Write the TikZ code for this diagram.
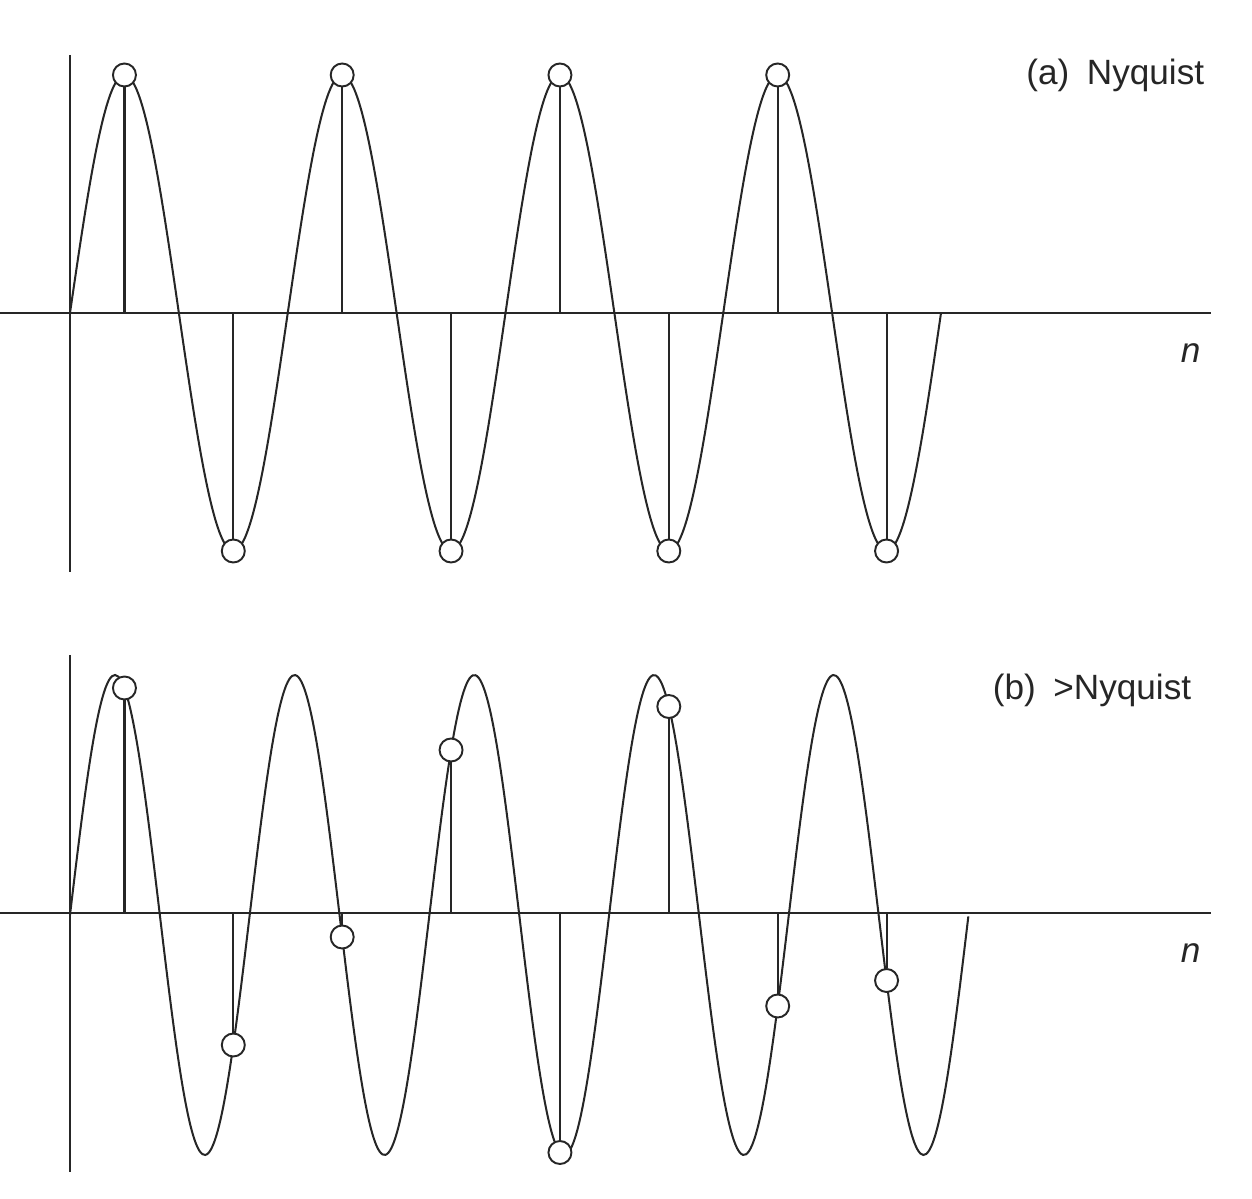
\documentclass[tikz,border=0pt]{standalone}
\usepackage{fontspec}
\setmainfont{Liberation Sans}
\usetikzlibrary{positioning}
\definecolor{ink}{HTML}{262626}

\begin{document}
\begin{tikzpicture}[line width=1pt,
    axis/.style={draw=ink, line width=1.2pt},
    wave/.style={draw=ink, line width=1.15pt, smooth},
    stem/.style={draw=ink, line width=1.2pt},
    smp/.style={circle, draw=ink, fill=white, line width=1.1pt, minimum size=.46cm, inner sep=0pt},
    lbl/.style={text=ink, font=\fontsize{20}{24}\selectfont, inner sep=0pt}]

\useasboundingbox (0,0) rectangle (25.04,23.96);

  % (a) Nyquist
\coordinate (ya0) at (1.4,22.86);
\coordinate (ya1) at (1.4,12.52);
\coordinate (xa0) at (0,17.70);
\coordinate (xa1) at (24.22,17.70);
\draw[axis] (ya0) -- (ya1);
\draw[axis] (xa0) -- (xa1);
\draw[wave] plot[domain=1.4:18.82, samples=240] (\x,{17.70+4.76*sin(360*(\x-1.4)/4.355)});

\coordinate (a1) at (2.489,17.70);
\coordinate (a2) at (4.666,17.70);
\coordinate (a3) at (6.844,17.70);
\coordinate (a4) at (9.021,17.70);
\coordinate (a5) at (11.199,17.70);
\coordinate (a6) at (13.376,17.70);
\coordinate (a7) at (15.554,17.70);
\coordinate (a8) at (17.731,17.70);
\node[smp] (sa1) at (2.489,22.46) {};
\node[smp] (sa2) at (4.666,12.94) {};
\node[smp] (sa3) at (6.844,22.46) {};
\node[smp] (sa4) at (9.021,12.94) {};
\node[smp] (sa5) at (11.199,22.46) {};
\node[smp] (sa6) at (13.376,12.94) {};
\node[smp] (sa7) at (15.554,22.46) {};
\node[smp] (sa8) at (17.731,12.94) {};
\draw[stem] (a1) -- (sa1);
\draw[stem] (a2) -- (sa2);
\draw[stem] (a3) -- (sa3);
\draw[stem] (a4) -- (sa4);
\draw[stem] (a5) -- (sa5);
\draw[stem] (a6) -- (sa6);
\draw[stem] (a7) -- (sa7);
\draw[stem] (a8) -- (sa8);

\node[lbl, anchor=base east] (la) at (24.10,22.26) {(a)\enspace Nyquist};
\node[lbl, anchor=base west] (na) at (23.60,16.70) {\itshape n};

  % (b) >Nyquist
\coordinate (yb0) at (1.4,10.86);
\coordinate (yb1) at (1.4,0.52);
\coordinate (xb0) at (0,5.70);
\coordinate (xb1) at (24.22,5.70);
\draw[axis] (yb0) -- (yb1);
\draw[axis] (xb0) -- (xb1);
\draw[wave] plot[domain=1.4:19.37, samples=300] (\x,{5.66+4.80*sin(360*(\x-1.4)/3.594)});

\coordinate (b1) at (2.489,5.70);
\coordinate (b2) at (4.666,5.70);
\coordinate (b3) at (6.844,5.70);
\coordinate (b4) at (9.021,5.70);
\coordinate (b5) at (11.199,5.70);
\coordinate (b6) at (13.376,5.70);
\coordinate (b7) at (15.554,5.70);
\coordinate (b8) at (17.731,5.70);
\node[smp] (sb1) at (2.489,10.20) {};
\node[smp] (sb2) at (4.666,3.06) {};
\node[smp] (sb3) at (6.844,5.22) {};
\node[smp] (sb4) at (9.021,8.96) {};
\node[smp] (sb5) at (11.199,0.91) {};
\node[smp] (sb6) at (13.376,9.83) {};
\node[smp] (sb7) at (15.554,3.84) {};
\node[smp] (sb8) at (17.731,4.35) {};
\draw[stem] (b1) -- (sb1);
\draw[stem] (b2) -- (sb2);
\draw[stem] (b3) -- (sb3);
\draw[stem] (b4) -- (sb4);
\draw[stem] (b5) -- (sb5);
\draw[stem] (b6) -- (sb6);
\draw[stem] (b7) -- (sb7);
\draw[stem] (b8) -- (sb8);

\node[lbl, anchor=base east] (lb) at (23.84,9.96) {(b)\enspace >Nyquist};
\node[lbl, anchor=base west] (nb) at (23.60,4.72) {\itshape n};

\end{tikzpicture}
\end{document}
